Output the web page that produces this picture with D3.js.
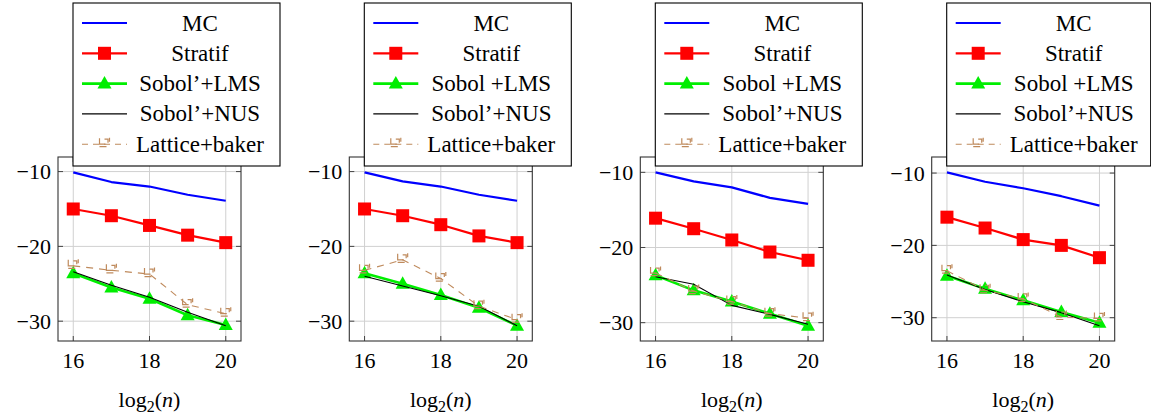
<!doctype html>
<html>
<head>
<meta charset="UTF-8">
<title>log2(n) panels</title>
<script src="https://d3js.org/d3.v7.min.js"></script>
</head>
<body style="margin:0">
<svg id="chart" width="1151" height="418"></svg>
<script>
// x values (log2 n)
var logN = [16, 17, 18, 19, 20];
var xTicks = [16, 18, 20];
var yTicks = [-10, -20, -30];

// series labels per panel (panels 2-4 lost the prime on LMS)
var namesP1 = ["MC", "Stratif", "Sobol\u2019+LMS", "Sobol\u2019+NUS", "Lattice+baker"];
var namesP2 = ["MC", "Stratif", "Sobol +LMS", "Sobol\u2019+NUS", "Lattice+baker"];

// panel 1
var mc1  = [-10.1, -11.4, -12.0, -13.1, -13.9];
var st1  = [-15.0, -15.9, -17.2, -18.5, -19.5];
var lms1 = [-23.6, -25.5, -27.0, -29.2, -30.5];
var nus1 = [-23.4, -25.2, -26.8, -28.8, -30.6];
var lat1 = [-22.6, -23.2, -23.7, -27.8, -29.0];
// panel 2
var mc2  = [-10.1, -11.3, -12.0, -13.1, -13.9];
var st2  = [-15.0, -15.9, -17.1, -18.6, -19.5];
var lms2 = [-23.6, -25.0, -26.5, -28.2, -30.6];
var nus2 = [-24.0, -25.3, -26.6, -28.0, -30.6];
var lat2 = [-23.2, -21.8, -24.3, -28.0, -29.8];
// panel 3
var mc3  = [-10.0, -11.2, -12.0, -13.4, -14.2];
var st3  = [-16.1, -17.5, -19.0, -20.6, -21.7];
var lms3 = [-23.7, -25.7, -27.2, -28.8, -30.4];
var nus3 = [-23.9, -24.9, -27.7, -28.9, -30.2];
var lat3 = [-23.4, -25.8, -27.2, -28.8, -29.4];
// panel 4
var mc4  = [-9.9, -11.2, -12.1, -13.2, -14.5];
var st4  = [-16.1, -17.6, -19.2, -20.0, -21.7];
var lms4 = [-24.2, -26.0, -27.6, -29.2, -30.7];
var nus4 = [-24.1, -26.1, -27.8, -29.3, -31.1];
var lat4 = [-23.5, -26.2, -27.4, -29.9, -30.1];

var panels = [
  {names: namesP1, series: [mc1, st1, lms1, nus1, lat1]},
  {names: namesP2, series: [mc2, st2, lms2, nus2, lat2]},
  {names: namesP2, series: [mc3, st3, lms3, nus3, lat3]},
  {names: namesP2, series: [mc4, st4, lms4, nus4, lat4]}
];

var styles = [
  {color: "#0000ff", width: 2.2, marker: null},
  {color: "#ff0000", width: 2.2, marker: "square"},
  {color: "#00ee00", width: 2.6, marker: "triangle"},
  {color: "#000000", width: 1.1, marker: null},
  {color: "#bf8a5c", width: 1.1, marker: "lattice", dash: "7,6"}
];

var svg = d3.select("#chart");
var pw = 183, ph = 184, top0 = 157;
var lefts = [58, 349.3, 640.3, 931.7];

// texts go straight on the svg, serif font via the font shorthand
function label(x, y, size, anchor, txt) {
  return svg.append("text")
    .style("font", size + "px Liberation Serif")
    .attr("x", x).attr("y", y)
    .attr("text-anchor", anchor).text(txt);
}

function drawMarker(g, kind, color, x, y) {
  if (kind === "square") {
    g.append("rect").attr("x", x - 6.5).attr("y", y - 6.5)
      .attr("width", 13).attr("height", 13).attr("fill", color);
  } else if (kind === "triangle") {
    g.append("path").attr("d", "M" + x + "," + (y - 7.5) + "L" + (x + 7) + "," + (y + 5) + "L" + (x - 7) + "," + (y + 5) + "Z")
      .attr("fill", color);
  } else if (kind === "lattice") {
    // small bracket glyph, roughly like the reference's marker
    var d = "M" + (x - 5) + "," + (y - 6) + "v6h6" +
            "M" + (x - 5) + "," + (y + 2.5) + "h7" +
            "M" + (x) + "," + (y - 5) + "h3.5v3.5" +
            "M" + (x + 5) + "," + (y - 6.5) + "v4";
    g.append("path").attr("d", d).attr("fill", "none")
      .attr("stroke", color).attr("stroke-width", 1.2);
  }
}

panels.forEach(function (p, pi) {
  var L = lefts[pi];
  var all = d3.merge(p.series);
  var lo = d3.min(all), hi = d3.max(all), pad = (hi - lo) * 0.1;

  var x = d3.scaleLinear().domain([15.6, 20.4]).range([L, L + pw]);
  var y = d3.scaleLinear().domain([lo - pad, hi + pad]).range([top0 + ph, top0]);

  var g = svg.append("g");

  // grid
  g.selectAll(".gx").data(xTicks).enter().append("line")
    .attr("x1", function (d) { return x(d); }).attr("x2", function (d) { return x(d); })
    .attr("y1", top0).attr("y2", top0 + ph)
    .attr("stroke", "#d0d0d0").attr("stroke-width", 1);
  g.selectAll(".gy").data(yTicks).enter().append("line")
    .attr("y1", function (d) { return y(d); }).attr("y2", function (d) { return y(d); })
    .attr("x1", L).attr("x2", L + pw)
    .attr("stroke", "#d0d0d0").attr("stroke-width", 1);

  // ticks inside on all four sides
  var tk = 5;
  xTicks.forEach(function (t) {
    g.append("line").attr("x1", x(t)).attr("x2", x(t)).attr("y1", top0 + ph).attr("y2", top0 + ph - tk).attr("stroke", "#444");
    g.append("line").attr("x1", x(t)).attr("x2", x(t)).attr("y1", top0).attr("y2", top0 + tk).attr("stroke", "#444");
  });
  yTicks.forEach(function (t) {
    g.append("line").attr("y1", y(t)).attr("y2", y(t)).attr("x1", L).attr("x2", L + tk).attr("stroke", "#444");
    g.append("line").attr("y1", y(t)).attr("y2", y(t)).attr("x1", L + pw).attr("x2", L + pw - tk).attr("stroke", "#444");
  });

  // series
  p.series.forEach(function (vals, si) {
    var st = styles[si];
    var line = d3.line().x(function (d, i) { return x(logN[i]); }).y(function (d) { return y(d); });
    g.append("path").datum(vals).attr("d", line)
      .attr("fill", "none").attr("stroke", st.color).attr("stroke-width", st.width)
      .attr("stroke-dasharray", st.dash || null).attr("stroke-linejoin", "round");
    if (st.marker) {
      vals.forEach(function (v, i) { drawMarker(g, st.marker, st.color, x(logN[i]), y(v)); });
    }
  });

  // frame
  g.append("rect").attr("x", L).attr("y", top0).attr("width", pw).attr("height", ph)
    .attr("fill", "none").attr("stroke", "#333").attr("stroke-width", 1.1);

  // tick labels
  xTicks.forEach(function (t) { label(x(t), 368, 22, "middle", t); });
  yTicks.forEach(function (t) {
    label(L - 7, y(t), 22, "end", "\u2212" + Math.abs(t)).attr("dy", "0.35em");
  });

  // axis label log2(n)
  var xl = label(L + pw / 2, 406.5, 22, "middle", "log");
  xl.append("tspan").style("font-size", "16px").attr("dy", 5).text("2");
  xl.append("tspan").attr("dy", -5).text("(");
  xl.append("tspan").style("font-style", "italic").text("n");
  xl.append("tspan").text(")");

  // legend
  var lx = L + 15, ly = 3, lw = (pi === 3 ? 204 : 207), lh = 163;
  var lg = svg.append("g");
  lg.append("rect").attr("x", lx).attr("y", ly).attr("width", lw).attr("height", lh)
    .attr("fill", "#fff").attr("stroke", "#000").attr("stroke-width", 1.1);
  p.names.forEach(function (nm, si) {
    var st = styles[si];
    var ry = ly + 20 + si * 30.3;
    lg.append("line").attr("x1", lx + 9).attr("x2", lx + 54).attr("y1", ry).attr("y2", ry)
      .attr("stroke", st.color).attr("stroke-width", st.width)
      .attr("stroke-dasharray", st.dash ? "6,5" : null);
    if (st.marker) drawMarker(lg, st.marker, st.color, lx + 31.5, ry);
    label(lx + 127, ry, 23, "middle", nm).attr("dy", "0.33em");
  });
});
</script>
</body>
</html>
